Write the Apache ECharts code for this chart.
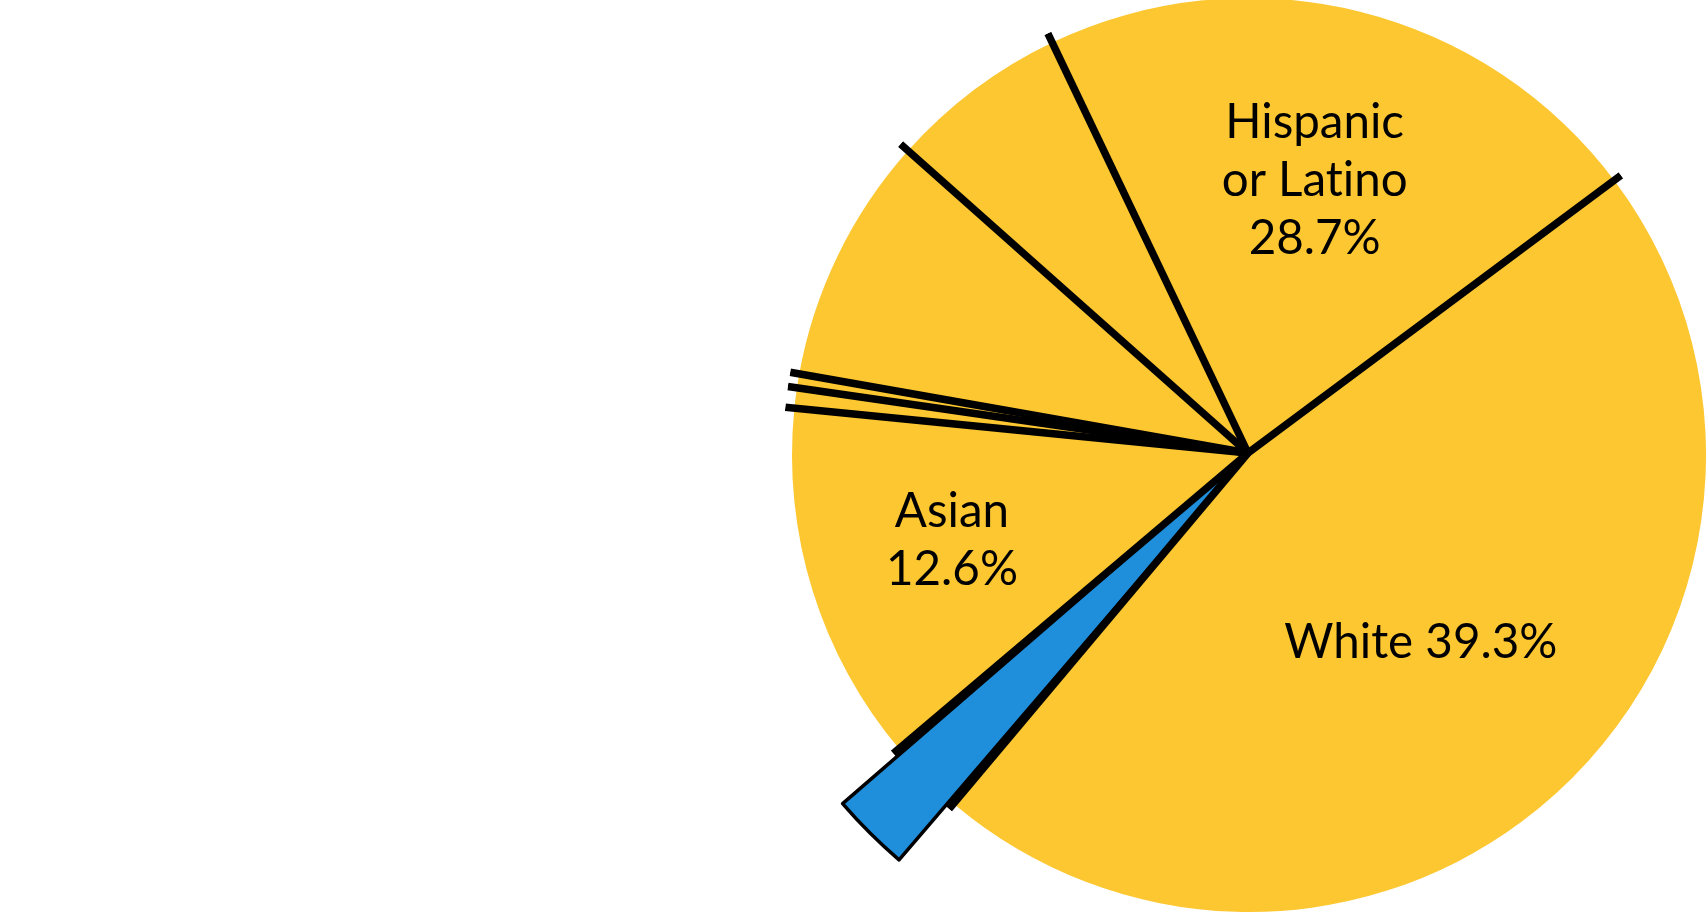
<!DOCTYPE html>
<html>
<head>
<meta charset="utf-8">
<style>
  html, body { margin: 0; padding: 0; background: #ffffff; }
  #chart { width: 1708px; height: 913px; }
</style>
<script src="https://cdn.jsdelivr.net/npm/echarts@6/dist/echarts.min.js"></script>
</head>
<body>
<div id="chart"></div>
<script>
// Slices in drawing order (clockwise), shares of the circle as drawn (percent)
const categories = ['Hispanic or Latino', 'White', 'Highlighted group', 'Asian', 'Other 1', 'Other 2', 'Other 3', 'Other 4'];
const shares = [21.9, 46.3, 2.7, 12.75, 0.72, 0.49, 8.79, 6.35];
// Printed label texts (ZWNJ keeps "ti" from forming a ligature)
const labelNames = ['Hispanic\nor Lat\u200Cino', 'White', '', 'Asian', '', '', '', ''];
const labelValues = ['28.7%', '39.3%', '', '12.6%', '', '', '', ''];
const highlightIndex = 2;

const YELLOW = '#FCC730';
const BLUE = '#1F8FDC';
const CENTER = [1249, 455];
const R = 457;

// label styling per labeled slice
const labelStyle = {
  0: { offset: [10, -50], sep: '\n' },
  1: { offset: [13, 19], sep: ' ' },
  3: { offset: [-76, 17], sep: '\n' }
};

const mainData = categories.map((name, i) => {
  const item = {
    name: name,
    value: shares[i],
    itemStyle: { color: i === highlightIndex ? '#000000' : YELLOW, borderWidth: 0 },
    label: { show: false }
  };
  if (labelStyle[i]) {
    item.label = {
      show: true,
      position: 'inside',
      formatter: labelNames[i] + labelStyle[i].sep + labelValues[i],
      offset: labelStyle[i].offset
    };
  }
  return item;
});

const blueData = categories.map((name, i) => ({
  name: name,
  value: shares[i],
  itemStyle: i === highlightIndex
    ? { color: BLUE, borderColor: '#000000', borderWidth: 3.5 }
    : { color: 'rgba(0,0,0,0)', borderWidth: 0 },
  label: { show: false }
}));

// boundaries (cumulative) for divider lines
const boundaries = [];
let acc = 0;
for (let i = 0; i < shares.length; i++) { boundaries.push(acc); acc += shares[i]; }

const lineSeries = boundaries.map(b => ({
  type: 'line',
  coordinateSystem: 'polar',
  data: [[0, b], [1, b]],
  showSymbol: false,
  symbol: 'none',
  silent: true,
  lineStyle: { color: '#000000', width: 7.5, cap: 'butt' },
  z: 5,
  animation: false
}));

const chart = echarts.init(document.getElementById('chart'), null, { renderer: 'canvas' });
chart.setOption({
  backgroundColor: '#ffffff',
  animation: false,
  tooltip: { show: false },
  polar: { center: [1248, 453], radius: 465 },
  angleAxis: {
    type: 'value', min: 0, max: 100, startAngle: 115.5, clockwise: true,
    show: false, axisLine: { show: false }, splitLine: { show: false }, axisLabel: { show: false }, axisTick: { show: false }
  },
  radiusAxis: {
    type: 'value', min: 0, max: 1,
    show: false, axisLine: { show: false }, splitLine: { show: false }, axisLabel: { show: false }, axisTick: { show: false }
  },
  series: [
    {
      type: 'pie',
      center: CENTER,
      radius: [0, R],
      startAngle: 115.5,
      clockwise: true,
      silent: true,
      avoidLabelOverlap: false,
      labelLine: { show: false },
      emphasis: { disabled: true },
      label: {
        color: '#000000',
        fontFamily: 'Lato',
        fontSize: 47.5,
        lineHeight: 58
      },
      data: mainData,
      z: 2
    },
    {
      type: 'pie',
      center: [1248, 453],
      radius: [0, 536],
      startAngle: 115.5,
      clockwise: true,
      padAngle: 1.2,
      silent: true,
      labelLine: { show: false },
      emphasis: { disabled: true },
      data: blueData,
      z: 3
    }
  ].concat(lineSeries)
});
</script>
</body>
</html>
